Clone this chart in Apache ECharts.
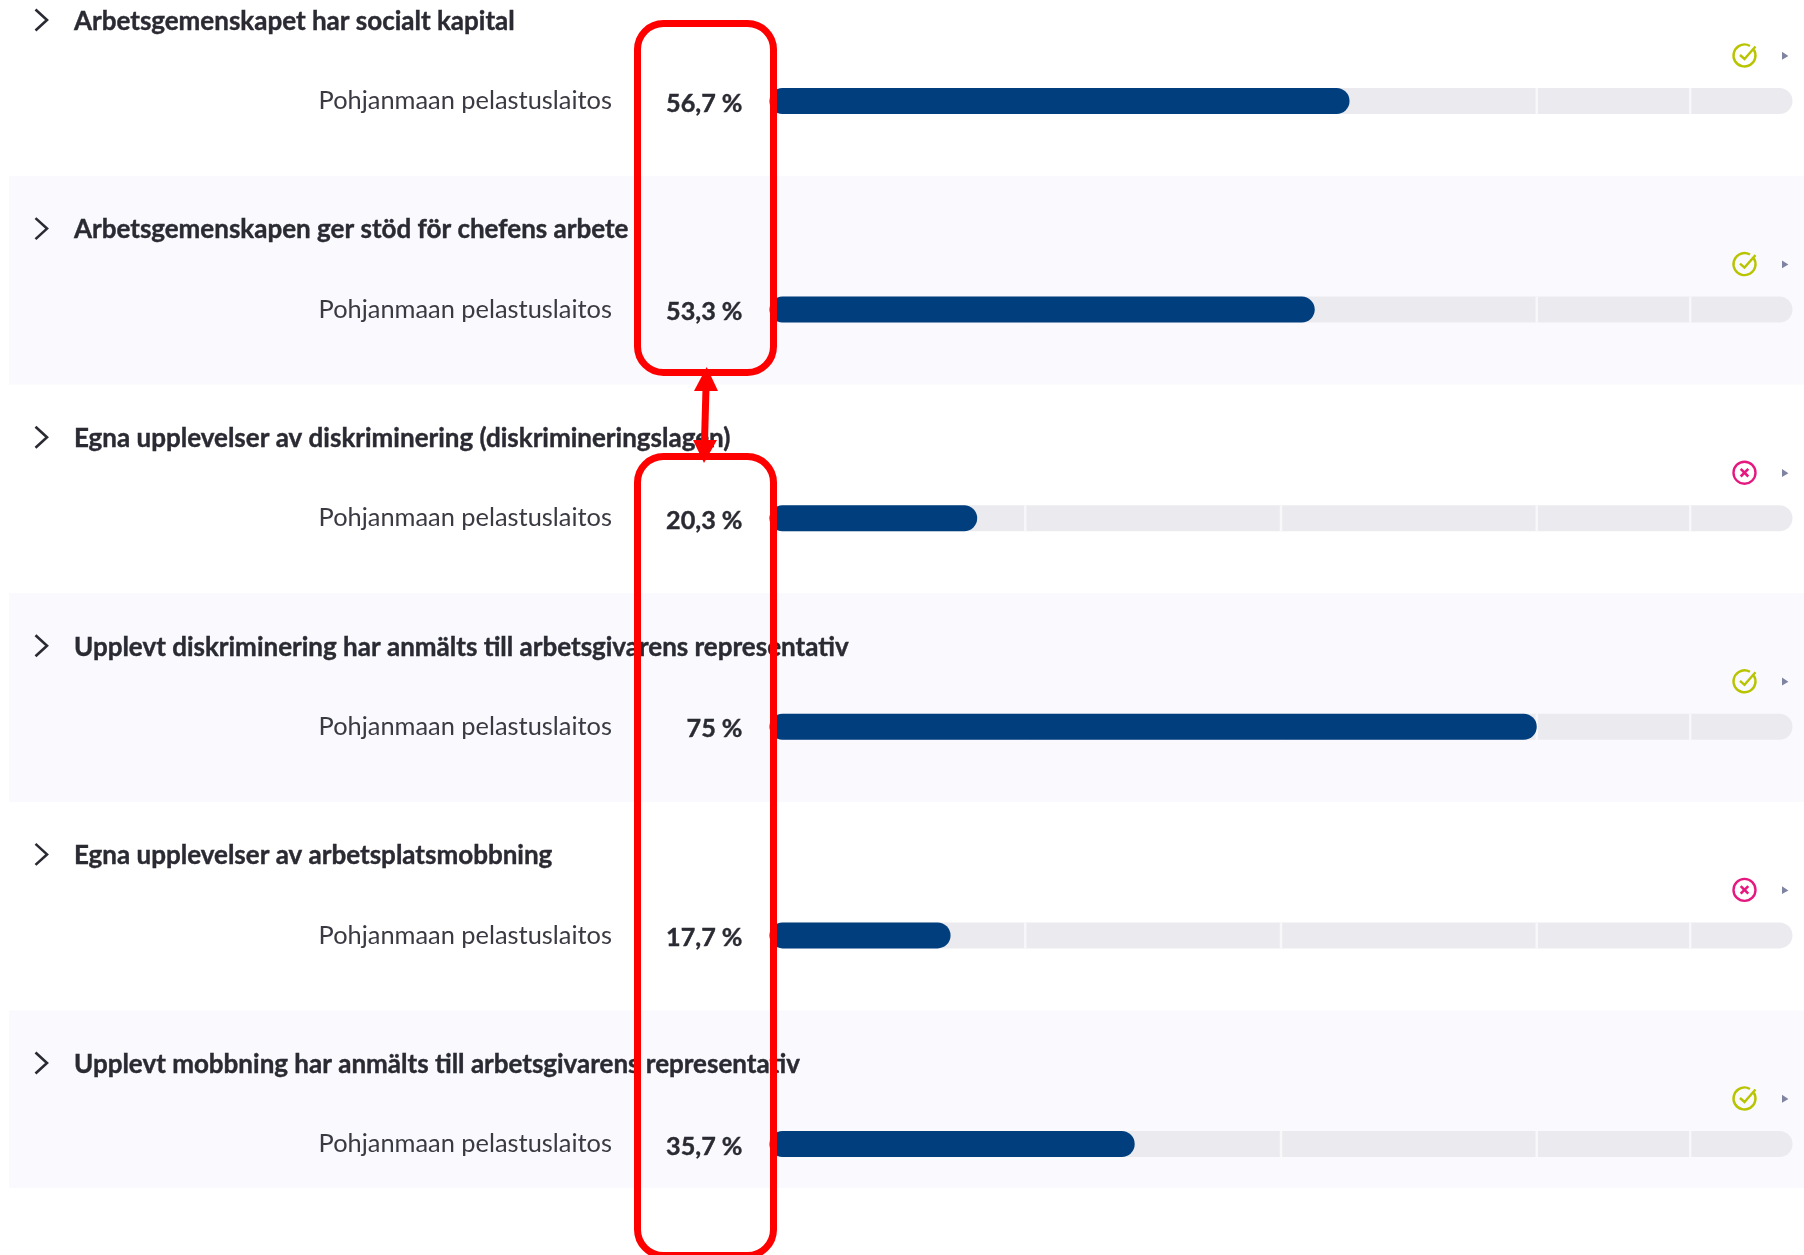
<!DOCTYPE html>
<html>
<head>
<meta charset="utf-8">
<style>html,body{margin:0;padding:0;background:#fff;overflow:hidden}#c{width:1804px;height:1255px}</style>
<script src="https://cdn.jsdelivr.net/npm/echarts@6/dist/echarts.min.js"></script>
</head>
<body>
<div id="c"></div>
<script>
const titles = [
  'Arbetsgemenskapet har socialt kapital',
  'Arbetsgemenskapen ger stöd för chefens arbete',
  'Egna upplevelser av diskriminering (diskrimineringslagen)',
  'Upplevt diskriminering har anmälts till arbetsgivarens representativ',
  'Egna upplevelser av arbetsplatsmobbning',
  'Upplevt mobbning har anmälts till arbetsgivarens representativ'
];
const organisation = 'Pohjanmaan pelastuslaitos';
const values = [56.7, 53.3, 20.3, 75, 17.7, 35.7];
const statuses = ['ok', 'ok', 'no', 'ok', 'no', 'ok'];
const trackValues = [100, 100, 100, 100, 100, 100];
const thresholds = [25, 50, 75, 90];

const FONT = 'Lato';
const INK = '#2a2a33';
const GREEN = '#b9c400';
const PINK = '#e5187f';
const RED = '#ff0000';
const BAR_H = 26;

const rowIdx = titles.map((_, i) => i);
const sepData = [];
rowIdx.forEach(r => thresholds.forEach(t => sepData.push([t, r])));

function renderBand(params, api) {
  const r = api.value(0);
  if (r % 2 === 0) return null;
  const cy = api.coord([0, r])[1];
  const top = cy - 133.5;
  const bottom = Math.min(cy + 75, 1188);
  return { type: 'rect', shape: { x: 9, y: top, width: 1795, height: bottom - top }, style: { fill: '#f9f9fe' } };
}
function renderHead(params, api) {
  const r = api.value(0);
  const cy = api.coord([0, r])[1];
  const ty = cy - 81;
  const iy = cy - 45.5;
  const ix = 1744.5;
  const kids = [
    { type: 'polyline', shape: { points: [[35.5, ty - 10.5], [47, ty], [35.5, ty + 10.5]] }, style: { stroke: INK, lineWidth: 2.6, fill: null } },
    { type: 'text', x: 74, y: ty + 1.4, style: { text: titles[r], fill: INK, stroke: INK, lineWidth: 0.4, font: '700 26px ' + FONT, textAlign: 'left', textVerticalAlign: 'middle' } },
    { type: 'polygon', shape: { points: [[1782, iy - 3.7], [1788.4, iy + 0.5], [1782, iy + 4.2]] }, style: { fill: '#7f84a0' } }
  ];
  if (statuses[r] === 'ok') {
    kids.push({ type: 'arc', shape: { cx: ix, cy: iy, r: 11, startAngle: -0.55, endAngle: -1.05, clockwise: true }, style: { stroke: GREEN, lineWidth: 2.4, fill: null } });
    kids.push({ type: 'polyline', shape: { points: [[ix - 4.5, iy - 0.5], [ix, iy + 3.5], [ix + 11, iy - 9]] }, style: { stroke: GREEN, lineWidth: 2.4, fill: null } });
  } else {
    kids.push({ type: 'circle', shape: { cx: ix, cy: iy, r: 11 }, style: { stroke: PINK, lineWidth: 2.4, fill: null } });
    kids.push({ type: 'line', shape: { x1: ix - 3.8, y1: iy - 3.8, x2: ix + 3.8, y2: iy + 3.8 }, style: { stroke: PINK, lineWidth: 2.6 } });
    kids.push({ type: 'line', shape: { x1: ix - 3.8, y1: iy + 3.8, x2: ix + 3.8, y2: iy - 3.8 }, style: { stroke: PINK, lineWidth: 2.6 } });
  }
  return { type: 'group', children: kids };
}
function renderSep(params, api) {
  const p = api.coord([api.value(0), api.value(1)]);
  return { type: 'rect', shape: { x: p[0] - 1.2, y: p[1] - BAR_H / 2, width: 2.4, height: BAR_H }, style: { fill: '#f8f8fb' } };
}

const chart = echarts.init(document.getElementById('c'), null, { renderer: 'canvas' });
chart.setOption({
  animation: false,
  backgroundColor: '#ffffff',
  grid: { left: 769.5, width: 1023, top: -3.3, height: 1251.6, outerBoundsMode: 'none' },
  xAxis: { type: 'value', min: 0, max: 100, show: false },
  yAxis: {
    type: 'category', inverse: true, data: titles, z: 1,
    axisLine: { show: false }, axisTick: { show: false },
    axisLabel: { formatter: () => organisation, margin: 157.5, color: '#3a3a43', fontFamily: FONT, fontSize: 25.4, align: 'right', padding: [2, 0, 0, 0] }
  },
  series: [
    { type: 'custom', z: 0, renderItem: renderBand, data: rowIdx.map(r => [r]), encode: { y: 0 }, silent: true },
    { type: 'custom', z: 3, renderItem: renderHead, data: rowIdx.map(r => [r]), encode: { y: 0 }, silent: true },
    { type: 'bar', z: 2, data: trackValues, barWidth: BAR_H, barGap: '-100%', itemStyle: { color: '#ebebef', borderRadius: 13 }, silent: true },
    { type: 'custom', z: 2.5, renderItem: renderSep, data: sepData, encode: { x: 0, y: 1 }, silent: true },
    {
      type: 'bar', z: 4, data: values, barWidth: BAR_H, barGap: '-100%',
      itemStyle: { color: '#003e7e', borderRadius: 13 },
      label: {
        show: true, position: 'left', distance: 27, offset: [0, 2.5],
        formatter: p => String(p.value).replace('.', ',') + ' %',
        color: INK, fontFamily: FONT, fontWeight: 700, fontSize: 25.2,
        textBorderColor: INK, textBorderWidth: 0.4
      }
    }
  ],
  graphic: [
    { type: 'rect', z: 100, shape: { x: 637.5, y: 23.5, width: 136, height: 349, r: 26 }, style: { fill: null, stroke: RED, lineWidth: 7 } },
    { type: 'rect', z: 100, shape: { x: 637.5, y: 456.5, width: 136, height: 799, r: 26 }, style: { fill: null, stroke: RED, lineWidth: 7 } },
    { type: 'line', z: 100, shape: { x1: 706, y1: 388, x2: 704.5, y2: 442 }, style: { stroke: RED, lineWidth: 7 } },
    { type: 'polygon', z: 100, shape: { points: [[706.7, 367], [718, 391], [694, 391]] }, style: { fill: RED } },
    { type: 'polygon', z: 100, shape: { points: [[704, 463], [693, 440], [717, 440]] }, style: { fill: RED } }
  ]
});
</script>
</body>
</html>
